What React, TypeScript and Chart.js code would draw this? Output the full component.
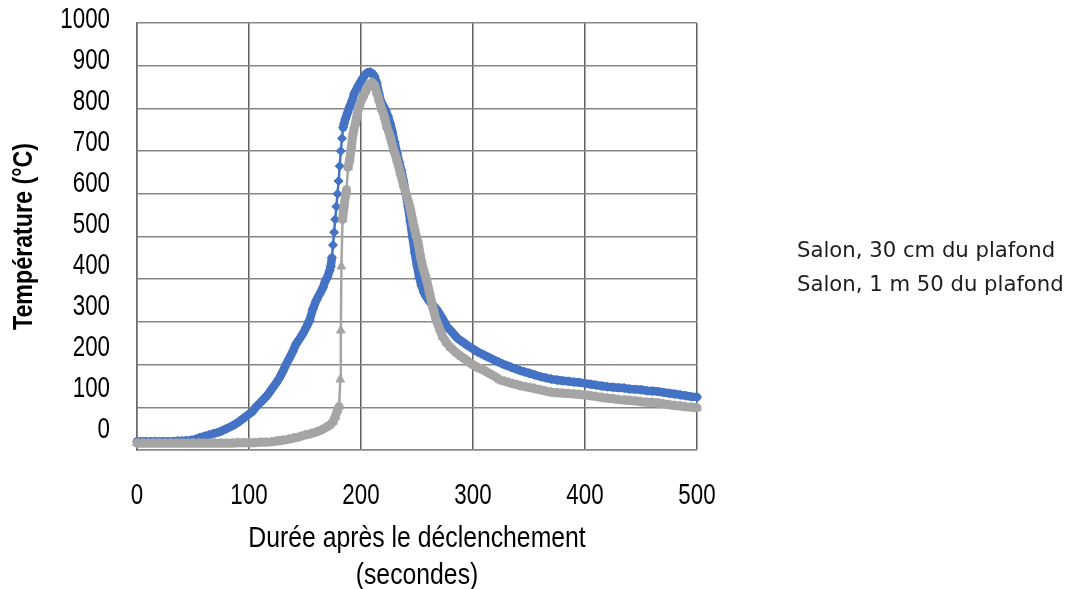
import React, { useEffect, useRef } from "react";
import { Chart, registerables } from "chart.js";

Chart.register(...registerables);

// ---- Data ----
const seriesLabels = ["Salon, 30 cm du plafond", "Salon, 1 m 50 du plafond"];
const xTitle = ["Durée après le déclenchement", "(secondes)"];
const yTitle = "Température (°C)";
const yTickLabels = [0, 100, 200, 300, 400, 500, 600, 700, 800, 900, 1000];

// Series 1: Salon, 30 cm du plafond (time in s)
const blueTimes = [
  0, 4, 8, 12, 16, 20, 24, 28, 32, 36,
  40, 44, 48, 52, 56, 60, 64, 68, 72, 76,
  80, 84, 88, 92, 96, 100, 103, 106, 109, 112,
  115, 118, 121, 124, 127, 130, 133, 136, 139, 142,
  145, 148, 151, 154, 157, 160, 163, 166, 168, 170,
  172, 173, 174, 175, 176, 177, 178, 179, 180, 181,
  182, 183, 184, 185, 186, 187, 188, 190, 192, 194,
  196, 198, 200, 202, 204, 206, 208, 210, 212, 214,
  216, 218, 220, 222, 224, 226, 228, 230, 232, 234,
  236, 238, 240, 242, 244, 246, 248, 250, 252, 254,
  256, 258, 260, 262, 264, 266, 268, 271, 274, 277,
  280, 283, 286, 289, 292, 295, 298, 301, 304, 307,
  310, 314, 318, 322, 326, 330, 334, 338, 342, 346,
  350, 355, 360, 365, 370, 375, 380, 385, 390, 395,
  400, 405, 410, 415, 420, 425, 430, 435, 440, 445,
  450, 455, 460, 465, 470, 475, 480, 485, 490, 495,
  500,
];
const blueTemps = [
  20, 20, 20, 20, 20, 20, 20, 20, 20, 21,
  21, 22, 23, 25, 29, 32, 35, 38, 41, 45,
  50, 55, 61, 68, 76, 84, 90, 100, 108, 116,
  124, 134, 145, 156, 168, 183, 200, 215, 230, 248,
  260, 272, 287, 303, 330, 350, 365, 380, 395, 405,
  420, 430, 450, 480, 510, 540, 570, 600, 630, 665,
  700, 730, 755, 765, 775, 782, 790, 805, 818, 835,
  845, 855, 864, 872, 880, 884, 885, 882, 875, 860,
  835, 815, 805, 795, 782, 765, 745, 720, 697, 675,
  655, 630, 600, 570, 535, 498, 462, 432, 405, 385,
  370, 360, 352, 345, 340, 334, 328, 315, 302, 288,
  280, 271, 262, 256, 251, 245, 240, 235, 230, 226,
  222, 217, 212, 207, 202, 198, 194, 190, 186, 183,
  180, 176, 172, 169, 166, 164, 162, 161, 159, 158,
  156, 154, 152, 150, 148, 147, 146, 145, 143, 142,
  141, 139, 138, 137, 135, 133, 131, 129, 127, 125,
  124,
];

// Series 2: Salon, 1 m 50 du plafond
const greyTimes = [
  0, 5, 10, 15, 20, 25, 30, 35, 40, 45,
  50, 55, 60, 65, 70, 75, 80, 85, 90, 95,
  100, 105, 110, 115, 120, 125, 130, 135, 140, 145,
  150, 155, 160, 164, 168, 172, 175, 177, 179, 180.5,
  181.5, 182, 182.5, 183.5, 185, 187, 188.5, 190, 191.5, 193,
  195, 197, 199, 202, 204, 206, 208, 210, 212, 214,
  216, 218.5, 221, 223, 226, 229, 232, 235, 238, 241,
  244, 246.5, 249, 251, 253, 255, 258.5, 261, 264, 267,
  270.5, 273, 276.5, 280, 283, 285.5, 290, 294, 297, 301,
  305, 309, 313, 317, 321, 324, 328, 332, 336, 339,
  343, 347, 351, 355, 360, 365, 370, 375, 380, 385,
  390, 395, 400, 405, 410, 415, 420, 425, 430, 435,
  440, 445, 450, 455, 460, 465, 470, 475, 480, 485,
  490, 495, 500,
];
const greyTemps = [
  16, 16, 16, 16, 16, 16, 16, 16, 16, 16,
  16, 16, 16, 16, 16, 16, 16, 16, 17, 17,
  17, 17, 18, 18, 19, 21, 23, 25, 28, 31,
  35, 38, 42, 46, 52, 58, 66, 78, 94, 102,
  165, 280, 430, 540, 575, 610, 662, 681, 712, 744,
  765, 791, 810, 829, 840, 850, 858, 861, 855, 838,
  820, 798, 780, 758, 735, 704, 680, 650, 620, 594,
  565, 533, 505, 486, 454, 430, 399, 370, 336, 305,
  282, 265, 251, 240, 233, 227, 218, 211, 204, 198,
  192, 188, 182, 176, 170, 164, 161, 158, 155, 153,
  150, 148, 146, 144, 141, 138, 135, 134, 133, 132,
  131, 130, 129, 127, 125, 123, 121, 120, 118, 117,
  116, 115, 113, 112, 111, 110, 108, 106, 104, 103,
  101, 100, 99,
];

// Narrow-font emulation: a dummy family "condNN" tells the draw hook to
// condense the glyphs horizontally to NN % (Arial Narrow look).
const narrow = (pct: number) => `cond${pct}, "Liberation Sans", Arial, sans-serif`;

// Line is drawn as a solid band where the recorded points lie densely,
// and as a thin connector where the temperature changes fast.
const bandWidth = (band: number, thin: number) => (c: any) => {
  const dt = Math.abs(c.p1.parsed.x - c.p0.parsed.x) || 1;
  const pxPerSecond = Math.abs(c.p1.y - c.p0.y) / dt;
  return pxPerSecond < 10 ? band : thin;
};

export default function App() {
  const canvasRef = useRef<HTMLCanvasElement | null>(null);

  useEffect(() => {
    const canvas = canvasRef.current;
    if (!canvas) return;

    const condensePlugin = {
      id: "condenseText",
      beforeInit(chart: any) {
        const ctx: any = chart.ctx;
        if (ctx.__condensed) return;
        const orig = ctx.fillText.bind(ctx);
        ctx.fillText = (text: string, x: number, y: number, maxWidth?: number) => {
          const m = /cond(\d+)/.exec(ctx.font);
          if (!m) {
            if (maxWidth === undefined) orig(text, x, y);
            else orig(text, x, y, maxWidth);
            return;
          }
          const f = Number(m[1]) / 100;
          ctx.save();
          ctx.translate(x, y);
          ctx.scale(f, 1);
          if (maxWidth === undefined) orig(text, 0, 0);
          else orig(text, 0, 0, maxWidth / f);
          ctx.restore();
        };
        ctx.__condensed = true;
      },
    };

    const yLabelsPlugin = {
      id: "yLabelsOffset",
      afterDraw(chart: any) {
        const s = chart.scales.y;
        const ctx = chart.ctx;
        ctx.save();
        ctx.font = `29px ${narrow(77)}`;
        ctx.fillStyle = "#000";
        ctx.textAlign = "right";
        ctx.textBaseline = "middle";
        yTickLabels.forEach((v) => {
          const y = s.getPixelForValue(v) - 3.3 - (1000 - v) * 0.017;
          ctx.fillText(String(v), 110, y);
        });
        ctx.restore();
      },
    };

    const sideLegend = {
      id: "sideLegend",
      afterDraw(chart: any) {
        const ctx = chart.ctx;
        ctx.save();
        ctx.font = `21.2px "DejaVu Sans", sans-serif`;
        ctx.fillStyle = "#1e1e1e";
        ctx.textAlign = "left";
        ctx.textBaseline = "middle";
        chart.data.datasets.forEach((ds: any, i: number) => {
          ctx.fillText(ds.label, 797, 251 + i * 34);
        });
        ctx.restore();
      },
    };

    const chart = new Chart(canvas, {
      type: "line",
      data: {
        datasets: [
          {
            label: seriesLabels[0],
            data: blueTimes.map((t, i) => ({ x: t, y: blueTemps[i] })),
            borderColor: "#4472C4",
            backgroundColor: "#4472C4",
            pointBackgroundColor: "#4472C4",
            pointBorderColor: "#4472C4",
            pointStyle: "rectRot",
            pointRadius: 4.5,
            pointBorderWidth: 1,
            borderWidth: 2.5,
            borderCapStyle: "round",
            borderJoinStyle: "round",
            segment: { borderWidth: bandWidth(8.5, 2.5) },
            tension: 0,
            order: 2,
            clip: false as any,
          },
          {
            label: seriesLabels[1],
            data: greyTimes.map((t, i) => ({ x: t, y: greyTemps[i] })),
            borderColor: "#A5A5A5",
            backgroundColor: "#A5A5A5",
            pointBackgroundColor: "#A5A5A5",
            pointBorderColor: "#A5A5A5",
            pointStyle: "triangle",
            pointRadius: 5,
            pointBorderWidth: 1,
            borderWidth: 2.5,
            borderCapStyle: "round",
            borderJoinStyle: "round",
            segment: { borderWidth: bandWidth(9, 2.5) },
            tension: 0,
            order: 1,
            clip: false as any,
          },
        ],
      },
      options: {
        responsive: false,
        animation: false,
        layout: { padding: { top: 23, right: 380, bottom: 0, left: 0 } },
        plugins: {
          legend: { display: false },
          tooltip: { enabled: false },
          title: { display: false },
        },
        scales: {
          x: {
            type: "linear",
            min: 0,
            max: 500,
            ticks: {
              stepSize: 100,
              color: "#000",
              font: { family: narrow(77), size: 29 },
              padding: 29,
              maxRotation: 0,
            },
            grid: { color: "#5f5f5f", lineWidth: 1.5, drawTicks: false },
            border: { color: "#8a8a8a", width: 1.5 },
            title: {
              display: true,
              text: xTitle,
              color: "#000",
              font: { family: narrow(84), size: 29.5, lineHeight: 1.25 },
              padding: { top: 0, bottom: -5 },
            },
            afterFit: (s: any) => {
              s.height = 139;
            },
          },
          y: {
            type: "linear",
            min: 0,
            max: 1000,
            ticks: { stepSize: 100, display: false },
            grid: { color: "#868686", lineWidth: 1.5, drawTicks: false },
            border: { color: "#6a6a6a", width: 1.5 },
            title: {
              display: true,
              text: yTitle,
              color: "#000",
              font: { family: narrow(83), size: 28, weight: "bold", lineHeight: 1.2 },
              padding: { top: 7, bottom: 0 },
            },
            afterFit: (s: any) => {
              s.width = 137;
            },
          },
        },
      },
      plugins: [condensePlugin, yLabelsPlugin, sideLegend],
    });

    return () => {
      chart.destroy();
    };
  }, []);

  return (
    <div
      style={{
        position: "fixed",
        left: 0,
        top: 0,
        width: 1077,
        height: 589,
        background: "#fff",
      }}
    >
      <canvas ref={canvasRef} width={1077} height={589} style={{ display: "block" }} />
    </div>
  );
}
